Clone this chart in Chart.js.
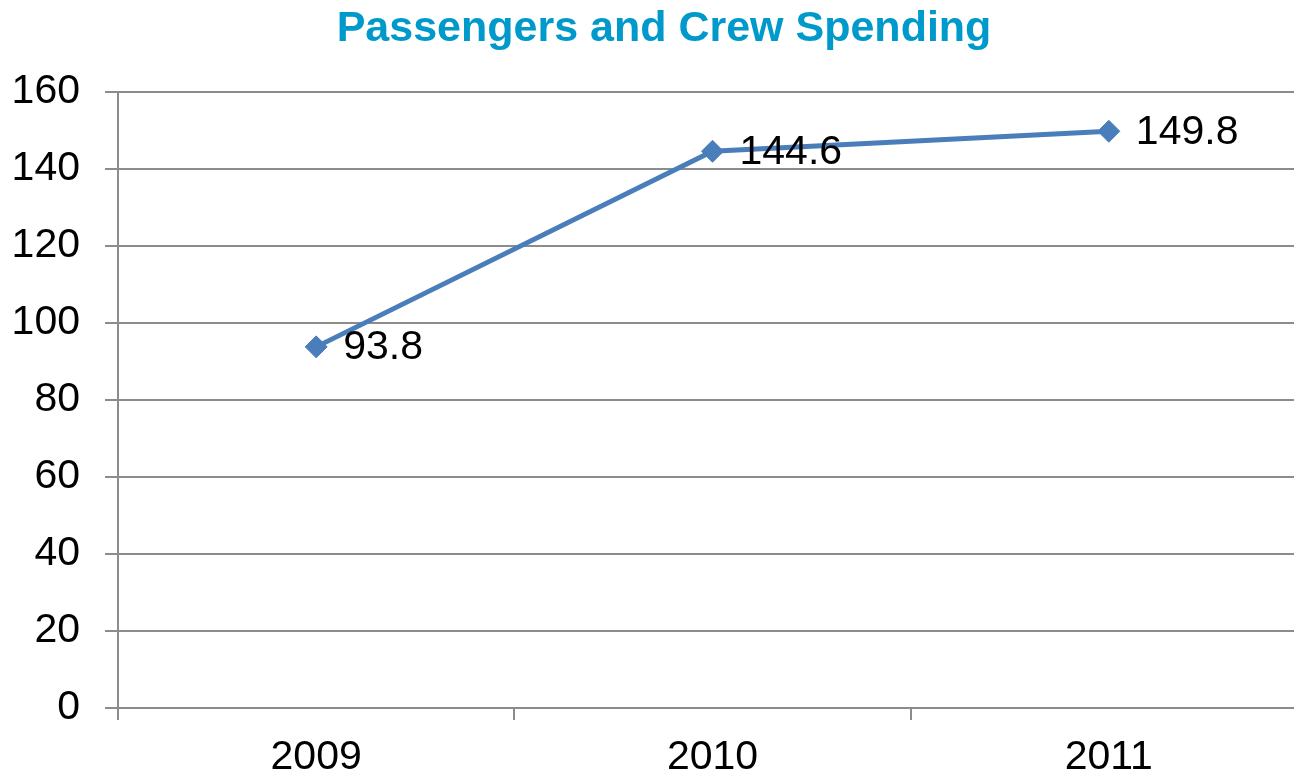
<!DOCTYPE html>
<html>
<head>
<meta charset="utf-8">
<script src="https://cdn.jsdelivr.net/npm/chart.js@4"></script>
<style>
  html, body { margin: 0; padding: 0; background: #fff; overflow: hidden; }
  #wrap { position: absolute; left: 0; top: 0; width: 1330px; height: 776px; }
</style>
</head>
<body>
<div id="wrap"><canvas id="myChart"></canvas></div>
<script>
const chartTitle = 'Passengers and Crew Spending';
const years = ['2009', '2010', '2011'];
const spending = [93.8, 144.6, 149.8];
const yTicks = [0, 20, 40, 60, 80, 100, 120, 140, 160];

const FONT = 'Arial, "Liberation Sans", sans-serif';

const ctx = document.getElementById('myChart').getContext('2d');

const chart = new Chart(ctx, {
  type: 'line',
  data: {
    labels: years,
    datasets: [{
      label: 'Spending',
      data: spending,
      borderColor: '#4a7ebb',
      backgroundColor: '#4a7ebb',
      borderWidth: 5,
      pointStyle: 'rectRot',
      pointRadius: 11,
      pointBorderWidth: 1,
      tension: 0
    }]
  },
  options: {
    responsive: true,
    maintainAspectRatio: false,
    animation: false,
    layout: { padding: { top: 92, right: 23, left: 0, bottom: 0 } },
    plugins: {
      legend: { display: false },
      title: { display: false },
      tooltip: { enabled: false }
    },
    scales: {
      x: {
        offset: true,
        grid: {
          offset: true,
          drawOnChartArea: false,
          color: '#8c8c8c',
          lineWidth: 2,
          tickLength: 12
        },
        border: { color: '#8c8c8c', width: 2 },
        ticks: { color: '#000', font: { family: FONT, size: 41 }, padding: 13 },
        afterFit(scale) { scale.height = 68; }
      },
      y: {
        min: 0,
        max: 160,
        afterBuildTicks(scale) { scale.ticks = yTicks.map(v => ({ value: v })); },
        grid: { color: '#8c8c8c', lineWidth: 2, tickLength: 13 },
        border: { color: '#8c8c8c', width: 2 },
        ticks: { color: '#000', font: { family: FONT, size: 41 }, padding: 25 },
        afterFit(scale) { scale.width = 118; }
      }
    }
  },
  plugins: [{
    id: 'titleAndLabels',
    afterDatasetsDraw(chart) {
      const c = chart.ctx;
      c.save();
      // data labels right of each point
      c.font = '41px ' + FONT;
      c.fillStyle = '#000';
      c.textAlign = 'left';
      c.textBaseline = 'middle';
      chart.getDatasetMeta(0).data.forEach((pt, i) => {
        c.fillText(String(spending[i]), pt.x + 27, pt.y + 1);
      });
      // title
      c.font = 'bold 43px ' + FONT;
      c.fillStyle = '#0099cc';
      c.textAlign = 'center';
      c.fillText(chartTitle, 664, 29);
      c.restore();
    }
  }]
});
</script>
</body>
</html>
